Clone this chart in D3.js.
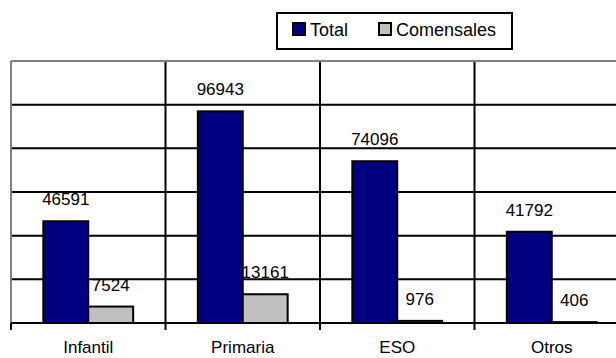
<!DOCTYPE html>
<html>
<head>
<meta charset="utf-8">
<script src="https://cdn.jsdelivr.net/npm/d3@7"></script>
<style>
  html, body { margin: 0; padding: 0; background: #fff; }
  svg { display: block; font-family: "Liberation Sans", Arial, sans-serif; }
</style>
</head>
<body>
<svg id="chart" width="616" height="358"></svg>
<script>
// Alumnado por nivel educativo: total y comensales
const categories = ["Infantil", "Primaria", "ESO", "Otros"];
const seriesNames = ["Total", "Comensales"];
const totalValues = [46591, 96943, 74096, 41792];
const comensalesValues = [7524, 13161, 976, 406];
const yTicks = [0, 20000, 40000, 60000, 80000, 100000, 120000];
const seriesColors = ["#000080", "#C0C0C0"];

const svg = d3.select("#chart");
const plot = { left: 11, top: 61, right: 629, bottom: 323 };

const x0 = d3.scaleBand().domain(categories).range([plot.left, plot.right]).padding(0);
const x1 = d3.scaleBand().domain(seriesNames).range([0, x0.bandwidth()])
  .paddingInner(0).paddingOuter(0.72);
const y = d3.scaleLinear().domain([0, 120000]).range([plot.bottom, plot.top]);
const color = d3.scaleOrdinal().domain(seriesNames).range(seriesColors);

const rows = categories.map((c, i) => ({
  category: c,
  values: [
    { key: "Total", value: totalValues[i] },
    { key: "Comensales", value: comensalesValues[i] }
  ]
}));

// Horizontal gridlines
svg.append("g")
  .selectAll("line")
  .data(yTicks.filter(t => t > 0 && t < 120000))
  .join("line")
  .attr("x1", plot.left).attr("x2", plot.right)
  .attr("y1", d => y(d)).attr("y2", d => y(d))
  .attr("stroke", "#000").attr("stroke-width", 2);

// Vertical separators between categories
svg.append("g")
  .selectAll("line")
  .data(categories.slice(1))
  .join("line")
  .attr("x1", d => x0(d)).attr("x2", d => x0(d))
  .attr("y1", plot.top).attr("y2", plot.bottom)
  .attr("stroke", "#000").attr("stroke-width", 2);

// Plot frame (top and left)
svg.append("line")
  .attr("x1", plot.left).attr("x2", plot.right)
  .attr("y1", plot.top).attr("y2", plot.top)
  .attr("stroke", "#808080").attr("stroke-width", 2);
svg.append("line")
  .attr("x1", plot.left).attr("x2", plot.left)
  .attr("y1", plot.top).attr("y2", plot.bottom)
  .attr("stroke", "#808080").attr("stroke-width", 2);

// Bars
const groups = svg.append("g")
  .selectAll("g")
  .data(rows)
  .join("g")
  .attr("transform", d => `translate(${x0(d.category)},0)`);

groups.selectAll("rect")
  .data(d => d.values)
  .join("rect")
  .attr("x", d => x1(d.key))
  .attr("y", d => y(d.value))
  .attr("width", x1.bandwidth())
  .attr("height", d => y(0) - y(d.value))
  .attr("fill", d => color(d.key))
  .attr("stroke", "#000")
  .attr("stroke-width", 2);

groups.selectAll("text")
  .data(d => d.values)
  .join("text")
  .attr("x", d => x1(d.key) + x1.bandwidth() / 2)
  .attr("y", d => y(d.value) - 16)
  .attr("text-anchor", "middle")
  .attr("font-size", 17)
  .attr("fill", "#000")
  .text(d => d.value);

// Category axis
const xAxis = svg.append("g")
  .attr("transform", `translate(0,${plot.bottom})`)
  .call(d3.axisBottom(x0).tickSize(0).tickPadding(0));
xAxis.select(".domain").remove();
xAxis.selectAll("text")
  .attr("font-size", 17)
  .attr("font-family", "Liberation Sans, Arial, sans-serif")
  .attr("fill", "#000")
  .attr("dy", null)
  .attr("y", 30);

svg.append("line")
  .attr("x1", plot.left).attr("x2", plot.right)
  .attr("y1", plot.bottom).attr("y2", plot.bottom)
  .attr("stroke", "#000").attr("stroke-width", 2);

svg.append("g")
  .selectAll("line")
  .data(categories)
  .join("line")
  .attr("x1", d => x0(d)).attr("x2", d => x0(d))
  .attr("y1", plot.bottom).attr("y2", plot.bottom + 7)
  .attr("stroke", "#000").attr("stroke-width", 2);

// Legend
const legend = svg.append("g").attr("transform", "translate(277,13)");
legend.append("rect")
  .attr("x", 0).attr("y", 0).attr("width", 235).attr("height", 36)
  .attr("fill", "#fff").attr("stroke", "#000").attr("stroke-width", 2);
const legendX = [16, 102];
const items = legend.selectAll("g.item")
  .data(seriesNames)
  .join("g")
  .attr("class", "item")
  .attr("transform", (d, i) => `translate(${legendX[i]},0)`);
items.append("rect")
  .attr("x", 0).attr("y", 10).attr("width", 12).attr("height", 12)
  .attr("fill", d => color(d)).attr("stroke", "#000").attr("stroke-width", 2);
items.append("text")
  .attr("x", 17).attr("y", 23)
  .attr("font-size", 18)
  .attr("fill", "#000")
  .text(d => d);
</script>
</body>
</html>
